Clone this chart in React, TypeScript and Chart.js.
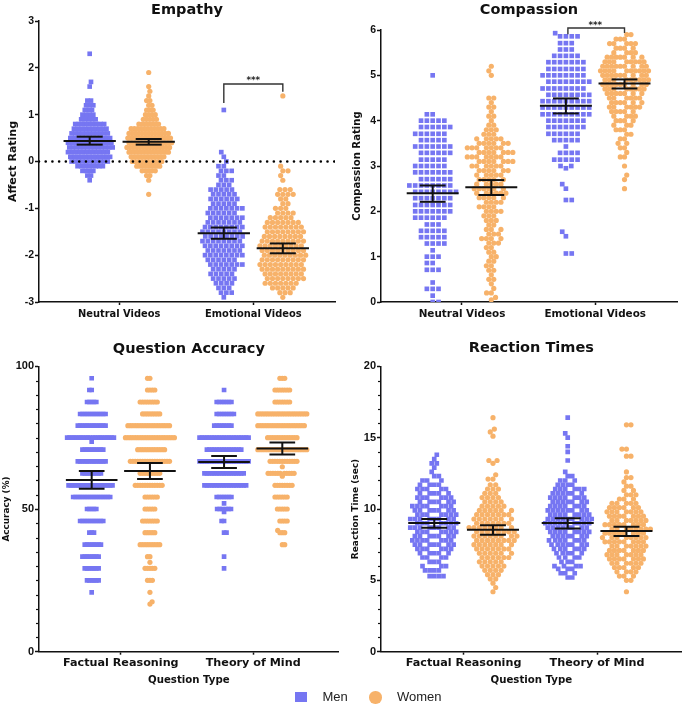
import React, { useEffect, useRef } from "react";
import { Chart, registerables } from "chart.js";

Chart.register(...registerables);

type Row = [number, number]; // [value, number of participants at that value]

// ---------------- DATA ----------------
const VIDEO_CATS = ["Neutral Videos", "Emotional Videos"];
const QUESTION_CATS = ["Factual Reasoning", "Theory of Mind"];
const GENDERS = ["Men", "Women"];

// Empathy – affect rating
const EMP_NEU_MEN: Row[] = [[2.3,1],[1.7,1],[1.6,1],[1.3,2],[1.2,3],[1.1,3],[1.0,4],[0.9,5],[0.8,9],[0.7,10],[0.6,11],[0.5,12],[0.4,13],[0.3,13],[0.2,12],[0.1,12],[0.0,11],[-0.1,8],[-0.2,4],[-0.3,2],[-0.4,1]];
const EMP_NEU_WOMEN: Row[] = [[1.9,1],[1.6,1],[1.5,1],[1.4,1],[1.3,2],[1.2,2],[1.1,3],[1.0,4],[0.9,5],[0.8,7],[0.7,11],[0.6,13],[0.5,14],[0.4,14],[0.3,14],[0.2,13],[0.1,11],[0.0,10],[-0.1,8],[-0.2,5],[-0.3,2],[-0.4,1],[-0.7,1]];
const EMP_EMO_MEN: Row[] = [[1.1,1],[0.2,1],[0.1,1],[0.0,1],[-0.1,2],[-0.2,3],[-0.3,2],[-0.4,3],[-0.5,3],[-0.6,5],[-0.7,5],[-0.8,6],[-0.9,5],[-1.0,7],[-1.1,6],[-1.2,7],[-1.3,7],[-1.4,8],[-1.5,8],[-1.6,8],[-1.7,8],[-1.8,8],[-1.9,7],[-2.0,8],[-2.1,6],[-2.2,7],[-2.3,5],[-2.4,5],[-2.5,5],[-2.6,4],[-2.7,3],[-2.8,3],[-2.9,1]];
const EMP_EMO_WOMEN: Row[] = [[1.4,1],[-0.1,1],[-0.2,2],[-0.3,1],[-0.4,1],[-0.6,3],[-0.7,4],[-0.8,2],[-0.9,2],[-1.0,3],[-1.1,4],[-1.2,5],[-1.3,7],[-1.4,8],[-1.5,8],[-1.6,8],[-1.7,9],[-1.8,9],[-1.9,9],[-2.0,9],[-2.1,9],[-2.2,9],[-2.3,9],[-2.4,8],[-2.5,8],[-2.6,7],[-2.7,5],[-2.8,3],[-2.9,1]];
const EMP_MEAN = [0.44, 0.42, -1.53, -1.85];
const EMP_LO = [0.36, 0.36, -1.65, -1.96];
const EMP_HI = [0.53, 0.48, -1.41, -1.75];

// Compassion rating
const COMP_NEU_MEN: Row[] = [[5.0,1],[4.14,2],[4.0,5],[3.86,6],[3.71,6],[3.57,5],[3.43,7],[3.29,6],[3.14,5],[3.0,6],[2.86,7],[2.71,6],[2.57,8],[2.43,8],[2.29,7],[2.14,7],[2.0,7],[1.86,6],[1.71,3],[1.57,5],[1.43,5],[1.29,4],[1.14,1],[1.0,3],[0.86,2],[0.71,3],[0.43,1],[0.29,3],[0.14,1],[0.0,2]];
const COMP_NEU_WOMEN: Row[] = [[5.2,1],[5.1,1],[5.0,1],[4.5,2],[4.4,1],[4.3,2],[4.2,1],[4.1,2],[4.0,1],[3.9,2],[3.8,3],[3.7,3],[3.6,5],[3.5,6],[3.4,7],[3.3,7],[3.2,7],[3.1,7],[3.0,6],[2.9,6],[2.8,5],[2.7,5],[2.6,5],[2.5,6],[2.4,6],[2.3,5],[2.2,4],[2.1,4],[2.0,4],[1.9,3],[1.8,3],[1.7,2],[1.6,3],[1.5,3],[1.4,4],[1.3,3],[1.2,2],[1.1,2],[1.0,2],[0.9,2],[0.8,2],[0.7,2],[0.6,1],[0.5,2],[0.4,1],[0.3,1],[0.2,2],[0.1,1],[0.05,1]];
const COMP_EMO_MEN: Row[] = [[5.93,1],[5.86,4],[5.71,3],[5.57,3],[5.43,5],[5.29,7],[5.14,7],[5.0,8],[4.86,8],[4.71,8],[4.57,8],[4.43,9],[4.29,9],[4.14,9],[4.0,7],[3.86,7],[3.71,6],[3.57,5],[3.43,1],[3.29,4],[3.14,5],[3.0,2],[2.95,1],[2.6,1],[2.5,1],[2.25,2],[1.55,1],[1.45,1],[1.07,2]];
const COMP_EMO_WOMEN: Row[] = [[5.9,2],[5.8,3],[5.7,5],[5.6,4],[5.5,4],[5.4,7],[5.3,8],[5.2,9],[5.1,10],[5.0,9],[4.9,9],[4.8,9],[4.7,8],[4.6,7],[4.5,6],[4.4,6],[4.3,6],[4.2,5],[4.1,4],[4.0,4],[3.9,3],[3.8,3],[3.7,2],[3.6,2],[3.5,2],[3.4,2],[3.3,1],[3.2,2],[3.0,1],[2.8,1],[2.7,1],[2.5,1]];
const COMP_MEAN = [2.40, 2.53, 4.33, 4.82];
const COMP_LO = [2.21, 2.36, 4.16, 4.71];
const COMP_HI = [2.57, 2.69, 4.49, 4.91];

// Question accuracy (%)
const ACC_FR_MEN: Row[] = [[95.8,1],[91.7,2],[87.5,5],[83.3,12],[79.2,13],[75,21],[73.6,1],[70.8,10],[66.7,13],[62.5,9],[58.3,20],[54.2,17],[50,5],[45.8,11],[41.7,3],[37.5,8],[33.3,8],[29.2,7],[25,6],[20.8,1]];
const ACC_FR_WOMEN: Row[] = [[95.8,2],[91.7,4],[87.5,8],[83.3,8],[79.2,18],[75,21],[70.8,12],[66.7,17],[62.5,9],[58.3,12],[54.2,6],[50,5],[45.8,7],[41.7,5],[37.5,9],[33.3,2],[31.3,1],[29.2,5],[25,3],[20.8,1],[17.5,1],[16.7,1]];
const ACC_TOM_MEN: Row[] = [[91.7,1],[87.5,7],[83.3,8],[79.2,8],[75,21],[70.8,15],[66.7,21],[62.5,17],[58.3,18],[54.2,7],[52,1],[50,6],[49,1],[45.8,2],[41.7,2],[33.3,1],[29.2,1]];
const ACC_TOM_WOMEN: Row[] = [[95.8,3],[91.7,7],[87.5,7],[83.3,21],[79.2,20],[75,13],[70.8,21],[66.7,12],[64.8,1],[62.5,11],[61.5,1],[58.3,8],[54.2,6],[50,5],[45.8,4],[42.5,1],[41.7,3],[37.5,2]];
const ACC_MEAN = [60.2, 63.3, 66.5, 71.2];
const ACC_LO = [57.1, 60.5, 64.4, 69.1];
const ACC_HI = [63.3, 66.1, 68.6, 73.3];

// Reaction time (sec)
const RT_FR_MEN: Row[] = [[13.8,1],[13.5,1],[13.2,2],[12.9,1],[12.6,1],[12.3,2],[12.0,3],[11.7,4],[11.4,5],[11.1,5],[10.8,6],[10.5,6],[10.2,7],[9.9,7],[9.6,7],[9.3,8],[9.0,7],[8.7,8],[8.4,7],[8.1,7],[7.8,7],[7.5,7],[7.2,6],[6.9,5],[6.6,4],[6.3,3],[6.0,3],[5.7,4],[5.3,4]];
const RT_FR_WOMEN: Row[] = [[16.4,1],[15.6,1],[15.4,1],[15.1,1],[13.4,2],[13.2,1],[12.4,1],[12.1,2],[11.7,2],[11.4,3],[11.1,3],[10.8,4],[10.5,4],[10.2,5],[9.9,6],[9.6,7],[9.3,7],[9.0,7],[8.7,8],[8.4,8],[8.1,8],[7.8,8],[7.5,7],[7.2,7],[6.9,6],[6.6,6],[6.3,5],[6.0,5],[5.7,4],[5.4,3],[5.1,2],[4.8,1],[4.5,1],[4.2,1]];
const RT_TOM_MEN: Row[] = [[16.4,1],[15.3,1],[15.0,1],[14.4,1],[14.0,1],[13.4,1],[12.6,1],[12.3,2],[12.0,3],[11.7,4],[11.4,6],[11.1,6],[10.8,7],[10.5,7],[10.2,7],[9.9,8],[9.6,8],[9.3,9],[9.0,9],[8.7,8],[8.4,8],[8.1,7],[7.8,7],[7.5,7],[7.2,6],[6.9,5],[6.6,4],[6.3,3],[6.0,4],[5.8,3],[5.5,3],[5.2,2]];
const RT_TOM_WOMEN: Row[] = [[15.9,2],[14.2,2],[13.7,2],[12.6,1],[12.2,2],[11.9,1],[11.6,2],[11.3,2],[11.0,3],[10.7,3],[10.4,5],[10.1,6],[9.8,7],[9.5,7],[9.2,7],[8.9,8],[8.6,8],[8.3,8],[8.0,8],[7.7,8],[7.4,7],[7.1,7],[6.8,7],[6.5,7],[6.2,6],[5.9,5],[5.6,4],[5.3,3],[5.0,2],[4.2,1]];
const RT_MEAN = [9.02, 8.55, 9.02, 8.46];
const RT_LO = [8.69, 8.20, 8.64, 8.11];
const RT_HI = [9.30, 8.86, 9.35, 8.76];

// significance brackets (value coordinates)
const EMP_BRACKET = { yl: 1.25, yt: 1.655, yr: 1.49, stars: 1.72 };
const COMP_BRACKET = { yl: 5.906, yt: 6.045, yr: 5.934, stars: 6.1 };

// ---------------- STYLE ----------------
const BLUE = "#7676f2";
const ORANGE = "#f7b26a";
const INK = "#111111";
const BOLD = "'DejaVu Sans', 'Liberation Sans', sans-serif";
const ARIAL = "'Liberation Sans', Arial, sans-serif";
const GROUP_OFF = 0.22;
const MEAN_HALF = 0.195;
const CAP_HALF = 0.097;

interface Panel {
  box: { left: number; top: number; width: number; height: number };
  padRight: number;
  yAxisW: number;
  title: string;
  titlePadTop: number;
  titlePadBottom: number;
  yTitle: string;
  yTitleSize: number;
  yTitlePad: number;
  yMin: number;
  yMax: number;
  yStep: number;
  yMinor?: number;
  tickSize: number;
  xMin: number;
  xMax: number;
  cats: string[];
  catSize: number;
  catPad: number;
  xTitle?: string;
  xTitlePadBottom?: number;
  xAxisH: number;
  groups: Row[][];
  means: number[];
  lo: number[];
  hi: number[];
  d: number;
  dMin: number;
  wHalf: number;
  zeroLine?: boolean;
  bracket?: { yl: number; yt: number; yr: number; stars: number; xl: number; xr: number };
}

const PANELS: Panel[] = [
  {
    box: { left: 0, top: 0, width: 342, height: 330 }, padRight: 7, yAxisW: 39,
    title: "Empathy", titlePadTop: 1.3, titlePadBottom: 2.3,
    yTitle: "Affect Rating", yTitleSize: 11, yTitlePad: 6.7,
    yMin: -3, yMax: 3, yStep: 1, tickSize: 10.5,
    xMin: -0.598, xMax: 1.609, cats: VIDEO_CATS, catSize: 9.9, catPad: 3.1, xAxisH: 28,
    groups: [EMP_NEU_MEN, EMP_NEU_WOMEN, EMP_EMO_MEN, EMP_EMO_WOMEN],
    means: EMP_MEAN, lo: EMP_LO, hi: EMP_HI, d: 6.4, dMin: 5.0, wHalf: 23, zeroLine: true,
    bracket: { ...EMP_BRACKET, xl: 1 - GROUP_OFF, xr: 1 + GROUP_OFF },
  },
  {
    box: { left: 342, top: 0, width: 343, height: 330 }, padRight: 8, yAxisW: 39,
    title: "Compassion", titlePadTop: 1.5, titlePadBottom: 11.1,
    yTitle: "Compassion Rating", yTitleSize: 10.1, yTitlePad: 9.6,
    yMin: 0, yMax: 6, yStep: 1, tickSize: 10.5,
    xMin: -0.608, xMax: 1.614, cats: VIDEO_CATS, catSize: 10.4, catPad: 3.1, xAxisH: 28,
    groups: [COMP_NEU_MEN, COMP_NEU_WOMEN, COMP_EMO_MEN, COMP_EMO_WOMEN],
    means: COMP_MEAN, lo: COMP_LO, hi: COMP_HI, d: 7.0, dMin: 5.2, wHalf: 24,
    bracket: { ...COMP_BRACKET, xl: 1 - 0.205, xr: 1 + GROUP_OFF },
  },
  {
    box: { left: 0, top: 330, width: 342, height: 379 }, padRight: 1, yAxisW: 39,
    title: "Question Accuracy", titlePadTop: 10.5, titlePadBottom: 8.4,
    yTitle: "Accuracy (%)", yTitleSize: 8.9, yTitlePad: 1.8,
    yMin: 0, yMax: 100, yStep: 50, yMinor: 5, tickSize: 11,
    xMin: -0.618, xMax: 1.646, cats: QUESTION_CATS, catSize: 11.2, catPad: 1.6,
    xTitle: "Question Type", xTitlePadBottom: 22.2, xAxisH: 57.3,
    groups: [ACC_FR_MEN, ACC_FR_WOMEN, ACC_TOM_MEN, ACC_TOM_WOMEN],
    means: ACC_MEAN, lo: ACC_LO, hi: ACC_HI, d: 5, dMin: 5, wHalf: 24.7,
  },
  {
    box: { left: 342, top: 330, width: 343, height: 379 }, padRight: 3, yAxisW: 39,
    title: "Reaction Times", titlePadTop: 9.3, titlePadBottom: 9.6,
    yTitle: "Reaction Time (sec)", yTitleSize: 9, yTitlePad: 7.9,
    yMin: 0, yMax: 20, yStep: 5, yMinor: 1, tickSize: 11,
    xMin: -0.619, xMax: 1.634, cats: QUESTION_CATS, catSize: 11.2, catPad: 1.6,
    xTitle: "Question Type", xTitlePadBottom: 22.2, xAxisH: 57.3,
    groups: [RT_FR_MEN, RT_FR_WOMEN, RT_TOM_MEN, RT_TOM_WOMEN],
    means: RT_MEAN, lo: RT_LO, hi: RT_HI, d: 5.8, dMin: 5.0, wHalf: 24,
  },
];

function expand(rows: Row[]): number[] {
  const out: number[] = [];
  for (const [v, c] of rows) for (let i = 0; i < c; i++) out.push(v);
  return out;
}

// beeswarm layout in pixel space: returns horizontal offsets (px)
function swarm(ys: number[], d: number): number[] {
  const idx = ys.map((_, i) => i).sort((a, b) => ys[a] - ys[b]);
  const placed: { x: number; y: number }[] = [];
  const out = new Array(ys.length).fill(0);
  let flip = 1;
  for (const i of idx) {
    const y = ys[i];
    const iv: [number, number][] = [];
    for (const p of placed) {
      const dy = Math.abs(p.y - y);
      if (dy < d) {
        const w = Math.sqrt(d * d - dy * dy);
        iv.push([p.x - w, p.x + w]);
      }
    }
    const cands = [0];
    for (const [a, b] of iv) cands.push(a, b);
    cands.sort((a, b) => Math.abs(a) - Math.abs(b) || flip * (b - a));
    let x = 0;
    for (const c of cands) {
      if (iv.every(([a, b]) => c <= a + 1e-6 || c >= b - 1e-6)) {
        x = c;
        break;
      }
    }
    if (x !== 0) flip = -flip;
    out[i] = x;
    placed.push({ x, y });
  }
  return out;
}

function maxAbs(a: number[]): number {
  let m = 0;
  for (const o of a) m = Math.max(m, Math.abs(o));
  return m;
}

// like Prism: spread points, tightening the spacing (then squeezing) when a column gets too wide
function fitSwarm(ys: number[], d0: number, dMin: number, wHalf: number): number[] {
  let d = d0;
  let offs = swarm(ys, d);
  while (maxAbs(offs) > wHalf && d * 0.97 >= dMin) {
    d *= 0.97;
    offs = swarm(ys, d);
  }
  const mx = maxAbs(offs);
  if (mx > wHalf) {
    const s = wHalf / mx;
    return offs.map((o) => o * s);
  }
  return offs;
}

function groupX(gi: number): number {
  return Math.floor(gi / 2) + (gi % 2 === 0 ? -GROUP_OFF : GROUP_OFF);
}

function seg(data: { x: number; y: number }[], width: number, extra: any = {}) {
  return {
    type: "scatter",
    data,
    showLine: true,
    borderColor: INK,
    borderWidth: width,
    pointRadius: 0,
    pointHoverRadius: 0,
    fill: false,
    order: 0,
    ...extra,
  };
}

function buildChart(canvas: HTMLCanvasElement, p: Panel): Chart {
  const datasets: any[] = [];
  p.groups.forEach((_, gi) => {
    const women = gi % 2 === 1;
    datasets.push({
      label: GENDERS[gi % 2],
      data: [],
      pointStyle: women ? "circle" : "rect",
      pointRadius: women ? 2.6 : 3.3,
      pointHoverRadius: women ? 2.6 : 3.3,
      backgroundColor: women ? ORANGE : BLUE,
      borderWidth: 0,
      order: 1,
    });
  });
  p.groups.forEach((_, gi) => {
    const cx = groupX(gi);
    const m = p.means[gi], lo = p.lo[gi], hi = p.hi[gi];
    datasets.push(seg([{ x: cx - MEAN_HALF, y: m }, { x: cx + MEAN_HALF, y: m }], 2));
    datasets.push(seg([{ x: cx, y: lo }, { x: cx, y: hi }], 2));
    datasets.push(seg([{ x: cx - CAP_HALF, y: hi }, { x: cx + CAP_HALF, y: hi }], 2));
    datasets.push(seg([{ x: cx - CAP_HALF, y: lo }, { x: cx + CAP_HALF, y: lo }], 2));
  });
  if (p.zeroLine) {
    datasets.push(
      seg([{ x: p.xMin, y: 0 }, { x: p.xMax, y: 0 }], 2.6, {
        borderDash: [0.01, 6.7],
        borderCapStyle: "round",
        borderColor: "#000",
      })
    );
  }
  if (p.bracket) {
    const b = p.bracket;
    datasets.push(
      seg(
        [
          { x: b.xl, y: b.yl },
          { x: b.xl, y: b.yt },
          { x: b.xr, y: b.yt },
          { x: b.xr, y: b.yr },
        ],
        1.4,
        { borderColor: "#333", clip: false, borderJoinStyle: "miter" }
      )
    );
  }

  const annot = {
    id: "annot" + p.title.replace(/\s/g, ""),
    afterDraw(chart: any) {
      const ctx: CanvasRenderingContext2D = chart.ctx;
      const sx = chart.scales.x, sy = chart.scales.y;
      ctx.save();
      if (p.yMinor) {
        ctx.strokeStyle = INK;
        ctx.lineWidth = 1.2;
        const left = chart.chartArea.left;
        for (let v = p.yMin; v <= p.yMax + 1e-9; v += p.yMinor) {
          if (Math.abs(v / p.yStep - Math.round(v / p.yStep)) < 1e-6) continue;
          const y = Math.round(sy.getPixelForValue(v)) + 0.5;
          ctx.beginPath();
          ctx.moveTo(left - 3, y);
          ctx.lineTo(left, y);
          ctx.stroke();
        }
      }
      if (p.bracket) {
        ctx.fillStyle = "#222";
        ctx.font = `bold 8.7px ${BOLD}`;
        ctx.textAlign = "center";
        ctx.textBaseline = "middle";
        ctx.fillText("***", sx.getPixelForValue(1), sy.getPixelForValue(p.bracket.stars));
      }
      ctx.restore();
    },
  };

  const cfg: any = {
    type: "scatter",
    data: { datasets },
    plugins: [annot],
    options: {
      animation: false,
      responsive: false,
      maintainAspectRatio: false,
      events: [],
      layout: { padding: { left: 0, right: p.padRight, top: 0, bottom: 0 } },
      plugins: {
        legend: { display: false },
        tooltip: { enabled: false },
        title: {
          display: true,
          text: p.title,
          color: INK,
          fullSize: false,
          font: { family: BOLD, size: 14.5, weight: "bold" },
          padding: { top: p.titlePadTop, bottom: p.titlePadBottom },
        },
      },
      scales: {
        x: {
          type: "linear",
          min: p.xMin,
          max: p.xMax,
          afterBuildTicks: (s: any) => {
            s.ticks = p.cats.map((_, i) => ({ value: i }));
          },
          afterFit: (s: any) => {
            s.height = p.xAxisH;
          },
          ticks: {
            autoSkip: false,
            maxRotation: 0,
            color: INK,
            padding: p.catPad,
            font: { family: BOLD, size: p.catSize, weight: "bold" },
            callback: (v: any) => p.cats[Math.round(v)] ?? "",
          },
          grid: {
            display: true,
            drawOnChartArea: false,
            drawTicks: true,
            tickLength: 3,
            tickWidth: 1.5,
            tickColor: INK,
          },
          border: { display: true, color: INK, width: 1.5 },
          title: p.xTitle
            ? {
                display: true,
                text: p.xTitle,
                color: INK,
                font: { family: BOLD, size: 10.2, weight: "bold" },
                padding: { top: 0, bottom: p.xTitlePadBottom },
              }
            : { display: false },
        },
        y: {
          type: "linear",
          min: p.yMin,
          max: p.yMax,
          afterFit: (s: any) => {
            s.width = p.yAxisW;
          },
          ticks: {
            stepSize: p.yStep,
            autoSkip: false,
            color: INK,
            padding: 1,
            font: { family: ARIAL, size: p.tickSize, weight: "bold" },
          },
          grid: {
            display: true,
            drawOnChartArea: false,
            drawTicks: true,
            tickLength: 4,
            tickWidth: 1.5,
            tickColor: INK,
          },
          border: { display: true, color: INK, width: 1.5 },
          title: {
            display: true,
            text: p.yTitle,
            color: INK,
            font: { family: BOLD, size: p.yTitleSize, weight: "bold" },
            padding: { top: p.yTitlePad, bottom: 0 },
          },
        },
      },
    },
  };

  const chart = new Chart(canvas, cfg);

  // place the points as a beeswarm around each group's centre
  const sx: any = chart.scales.x;
  const sy: any = chart.scales.y;
  const pxX = sx.getPixelForValue(1) - sx.getPixelForValue(0);
  const pxY = sy.getPixelForValue(0) - sy.getPixelForValue(1);
  p.groups.forEach((rows, gi) => {
    const vals = expand(rows);
    const offs = fitSwarm(vals.map((v) => v * pxY), p.d, p.dMin, p.wHalf);
    const cx = groupX(gi);
    (chart.data.datasets[gi] as any).data = vals.map((v, i) => ({ x: cx + offs[i] / pxX, y: v }));
  });
  chart.update();
  return chart;
}

export default function App() {
  const refs = [
    useRef<HTMLCanvasElement>(null),
    useRef<HTMLCanvasElement>(null),
    useRef<HTMLCanvasElement>(null),
    useRef<HTMLCanvasElement>(null),
  ];

  useEffect(() => {
    const charts: Chart[] = [];
    PANELS.forEach((p, i) => {
      const c = refs[i].current;
      if (c) charts.push(buildChart(c, p));
    });
    return () => charts.forEach((c) => c.destroy());
  }, []);

  return (
    <div style={{ position: "absolute", left: 0, top: 0, width: 685, height: 709, background: "#fff", overflow: "hidden" }}>
      {PANELS.map((p, i) => (
        <canvas
          key={i}
          ref={refs[i]}
          width={p.box.width}
          height={p.box.height}
          style={{ position: "absolute", left: p.box.left, top: p.box.top, width: p.box.width, height: p.box.height }}
        />
      ))}
      <div style={{ position: "absolute", left: 295, top: 691.5, width: 11.5, height: 10.5, background: BLUE }} />
      <div style={{ position: "absolute", left: 322.5, top: 688, font: `13px ${ARIAL}`, lineHeight: "18px", color: "#222" }}>
        {GENDERS[0]}
      </div>
      <div style={{ position: "absolute", left: 369, top: 691, width: 12.5, height: 12.5, borderRadius: "50%", background: ORANGE }} />
      <div style={{ position: "absolute", left: 397, top: 688, font: `13px ${ARIAL}`, lineHeight: "18px", color: "#222" }}>
        {GENDERS[1]}
      </div>
    </div>
  );
}
